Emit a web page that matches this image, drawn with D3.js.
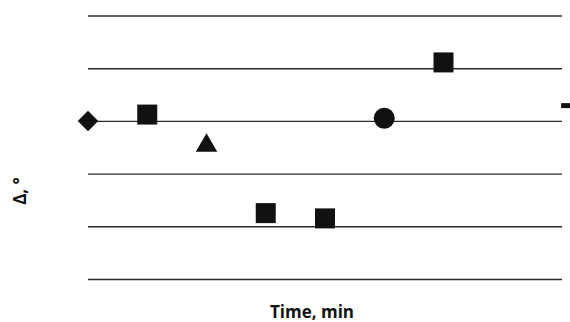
<!DOCTYPE html>
<html>
<head>
<meta charset="utf-8">
<script src="https://cdn.jsdelivr.net/npm/d3@7"></script>
<style>
  html, body { margin: 0; padding: 0; background: #fff; }
  svg { display: block; }
</style>
</head>
<body>
<div id="chart"></div>
<script>
// ##################################
//  DATA
// ##################################
const times = [0, 1, 2, 3, 4, 5, 6, 8.07] // min
const deltas = [0, 0.12, -0.47, -1.75, -1.85, 0.05, 1.11, 0.29] // degrees
const shapes = ["diamond", "square", "triangle", "square", "square", "circle", "square", "dash"]
const gridTicks = [-3, -2, -1, 0, 1, 2]
const xLabel = "Time, min"
const yLabel = "Δ, °"

// ##################################
//  CONSTANTS
// ##################################
const width = 570
const height = 322
const margin = { top: 15.5, right: 8, bottom: 43, left: 88 }

const x = d3.scaleLinear()
  .domain([0, 8])
  .range([margin.left, width - margin.right])

const y = d3.scaleLinear()
  .domain([-3, 2])
  .range([height - margin.bottom, margin.top])

const svg = d3.select("#chart")
  .append("svg")
  .attr("width", width)
  .attr("height", height)

// gridlines (no tick labels in the original)
svg.append("g")
  .call(d3.axisLeft(y).tickValues(gridTicks).tickSize(-(x.range()[1] - x.range()[0])).tickFormat(""))
  .attr("transform", `translate(${margin.left},0)`)
  .call((g) => g.select(".domain").remove())
  .call((g) => g.selectAll(".tick line").attr("stroke", "#2a2a2a").attr("stroke-width", 1.4))

// markers
const sym = {
  square: d3.symbol(d3.symbolSquare, 400),
  diamond: d3.symbol(d3.symbolSquare, 210),
  triangle: d3.symbol(d3.symbolTriangle, 200),
  circle: d3.symbol(d3.symbolCircle, 346),
}

const points = times.map((t, i) => ({ t, v: deltas[i], shape: shapes[i] }))

const marks = svg.append("g").attr("fill", "#111")

marks.selectAll("path")
  .data(points.filter((d) => d.shape !== "dash"))
  .join("path")
  .attr("d", (d) => sym[d.shape]())
  .attr("transform", (d) =>
    `translate(${x(d.t)},${y(d.v)})` + (d.shape === "diamond" ? " rotate(45)" : ""))

marks.selectAll("rect")
  .data(points.filter((d) => d.shape === "dash"))
  .join("rect")
  .attr("x", (d) => x(d.t) - 5)
  .attr("y", (d) => y(d.v) - 2.5)
  .attr("width", 10)
  .attr("height", 5)

// axis titles
svg.append("text")
  .attr("x", (x.range()[0] + x.range()[1]) / 2 - 13)
  .attr("y", 318)
  .attr("text-anchor", "middle")
  .attr("font-family", "Open Sans")
  .attr("font-weight", 700)
  .attr("font-size", 17)
  .attr("fill", "#111")
  .text(xLabel)

svg.append("text")
  .attr("transform", "translate(26,191) rotate(-90)")
  .attr("text-anchor", "middle")
  .attr("font-family", "Open Sans")
  .attr("font-weight", 700)
  .attr("font-size", 17)
  .attr("fill", "#111")
  .text(yLabel)
</script>
</body>
</html>
